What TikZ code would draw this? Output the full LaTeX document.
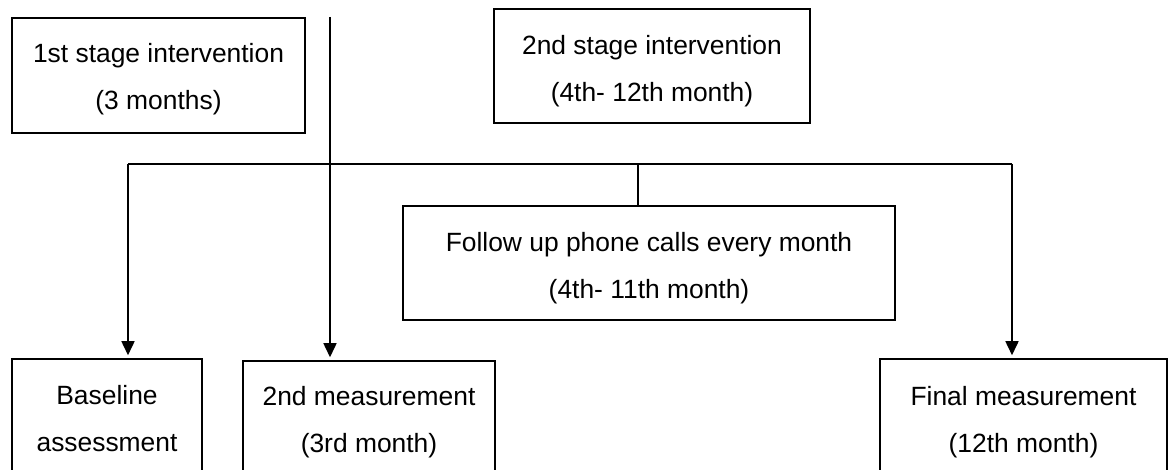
\documentclass[tikz,border=0pt]{standalone}
\usepackage{fontspec}
\setmainfont{Liberation Sans}
\usetikzlibrary{arrows.meta}
\newcommand{\myshift}[1]{\rule{0pt}{#1}}
\begin{document}
\begin{tikzpicture}[x=1pt,y=-1pt,
  box/.style={draw=black,line width=0.75pt,inner sep=0pt,align=center,
    font=\fontsize{13.2}{23.5}\selectfont,text=black},
  conn/.style={draw=black,line width=0.75pt},
  arr/.style={conn,-{Triangle[width=6.5pt,length=7pt]},shorten >=1.5pt}]
\useasboundingbox (0,0) rectangle (584,235);
% top boxes
\node[box,minimum width=146.5pt,minimum height=57.5pt] (s1) at (79.25,37.75)
  {\myshift{13.5pt}1st stage intervention\\(3 months)};
\node[box,minimum width=158pt,minimum height=57pt] (s2) at (326,33)
  {\myshift{15pt}2nd stage intervention\\(4th- 12th month)};
\node[box,minimum width=246pt,minimum height=57pt] (fu) at (324.5,131.5)
  {\myshift{14.5pt}Follow up phone calls every month\\(4th- 11th month)};
% bottom boxes (cut off at the lower edge)
\node[box,minimum width=95pt,minimum height=60pt] (base) at (53.5,209.5)
  {Baseline\\assessment};
\node[box,minimum width=126pt,minimum height=60pt] (m2) at (184.5,210.5)
  {\myshift{11pt}2nd measurement\\(3rd month)};
\node[box,minimum width=143.5pt,minimum height=60pt] (fin) at (511.75,209.5)
  {\myshift{13pt}Final measurement\\(12th month)};
% connectors
\coordinate (vtop) at (165,8.5);
\coordinate (hl) at (64,82);
\coordinate (hr) at (506,82);
\coordinate (stub) at (319,82);
\draw[arr] (vtop) -- (vtop |- m2.north);
\draw[conn] (hl) -- (hr);
\draw[arr] (hl) -- (hl |- base.north);
\draw[arr] (hr) -- (hr |- fin.north);
\draw[conn] (stub) -- (stub |- fu.north);
\end{tikzpicture}
\end{document}
